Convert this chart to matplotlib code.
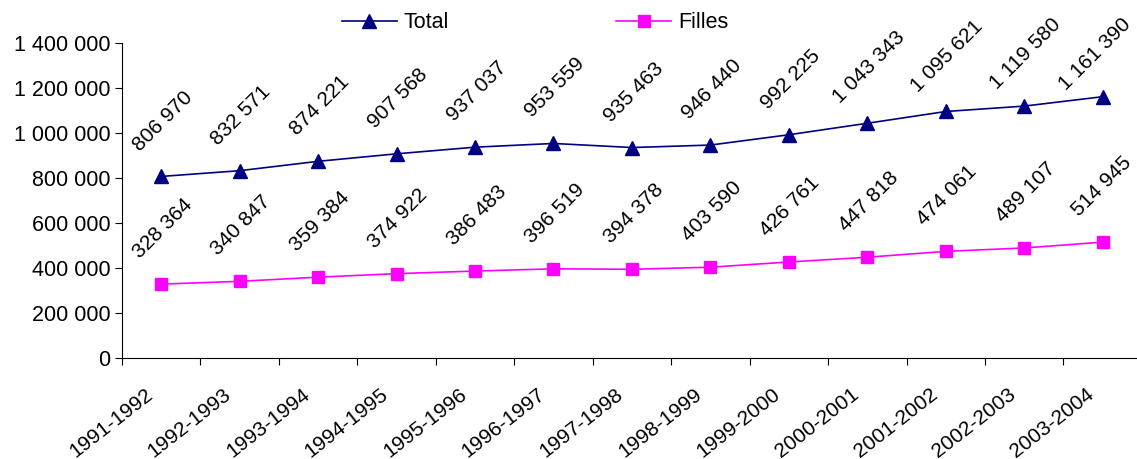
import matplotlib.pyplot as plt

plt.rcParams['font.family'] = ['Liberation Sans', 'DejaVu Sans']

annees = ['1991-1992', '1992-1993', '1993-1994', '1994-1995', '1995-1996',
          '1996-1997', '1997-1998', '1998-1999', '1999-2000', '2000-2001',
          '2001-2002', '2002-2003', '2003-2004']
total = [806970, 832571, 874221, 907568, 937037, 953559, 935463,
         946440, 992225, 1043343, 1095621, 1119580, 1161390]
filles = [328364, 340847, 359384, 374922, 386483, 396519, 394378,
          403590, 426761, 447818, 474061, 489107, 514945]
yticks = [0, 200000, 400000, 600000, 800000, 1000000, 1200000, 1400000]


def fmt(v):  # separateur de milliers en espace
    return format(v, ',').replace(',', ' ')


fig = plt.figure(figsize=(11.37, 4.59), dpi=100)
ax = fig.add_axes([0.1073, 0.22, 0.897, 0.6863])

x = list(range(len(annees)))
ax.plot(x, total, color='#000080', marker='^', markersize=10, linewidth=1.2, label='Total')
ax.plot(x, filles, color='#FF00FF', marker='s', markersize=9, linewidth=1.2, label='Filles')

etiquettes = []
for serie in (total, filles):
    for i, v in zip(x, serie):
        a = ax.annotate(fmt(v), (i, v), xytext=(1, 40), textcoords='offset points',
                        ha='center', va='center', rotation=45, fontsize=15)
        etiquettes.append(a)

ax.set_xlim(-0.5, 12.5)
ax.set_ylim(0, 1400000)
ax.set_yticks(yticks)
ax.set_yticklabels([fmt(v) for v in yticks], fontsize=15.5)

# graduations entre les categories, libelles sous chaque categorie
ax.set_xticks([i - 0.5 for i in range(len(annees) + 1)])
ax.set_xticklabels([])
for i, a in zip(x, annees):
    ax.annotate(a, (i, 0), xycoords=('data', 'axes fraction'), xytext=(-12, -19),
                textcoords='offset points', ha='right', va='top', rotation=38,
                rotation_mode='anchor', fontsize=15, annotation_clip=False)
ax.tick_params(axis='x', length=5)
ax.tick_params(axis='y', length=5)

ax.spines['top'].set_visible(False)
ax.spines['right'].set_visible(False)

fig.legend(loc='center', bbox_to_anchor=(0.4705, 0.95), ncol=2, frameon=False,
           fontsize=15.5, handlelength=2.55, columnspacing=7.8, handletextpad=0.3)

# comme Excel : garder les etiquettes dans la zone du graphique
fig.canvas.draw()
rend = fig.canvas.get_renderer()
W, H = fig.bbox.width, fig.bbox.height
for a in etiquettes:
    bb = a.get_window_extent(rend)
    dy = max(0, bb.y1 - (H - 15))
    dx = max(0, bb.x1 - (W - 2))
    if dx or dy:
        x0, y0 = a.xyann
        a.xyann = (x0 - dx * 72 / 100, y0 - dy * 72 / 100)

fig.savefig('out.png', dpi=100)
